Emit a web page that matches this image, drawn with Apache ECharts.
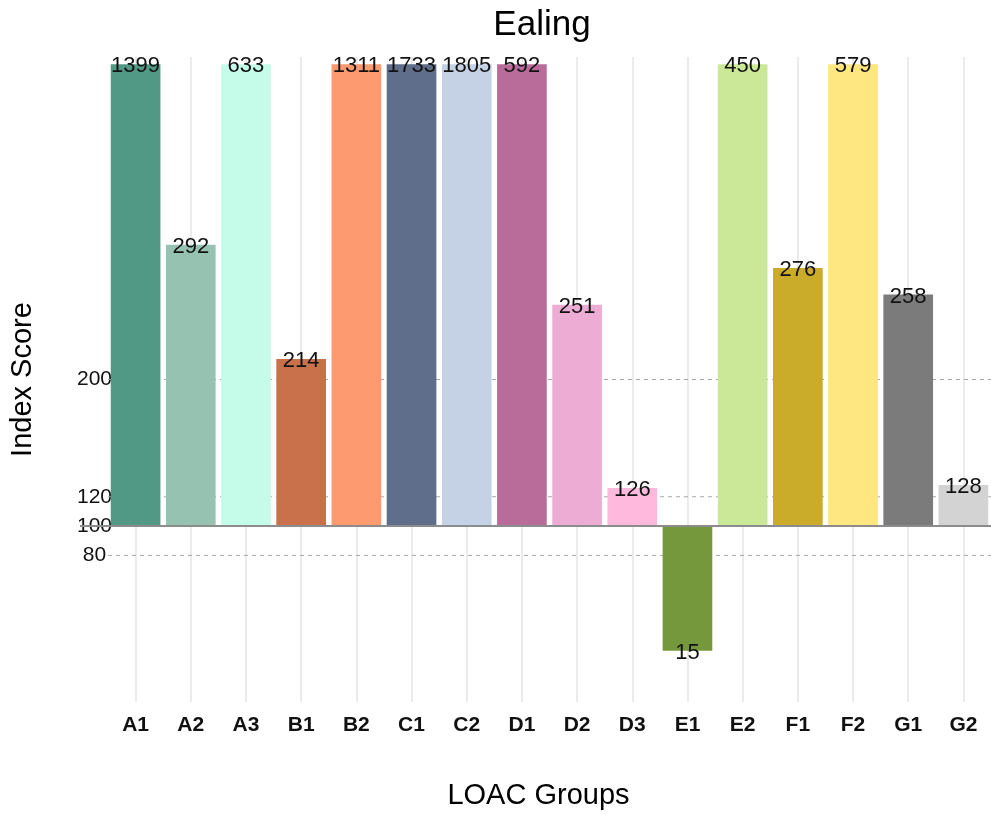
<!DOCTYPE html>
<html>
<head>
<meta charset="utf-8">
<title>Ealing – LOAC Groups</title>
<script src="https://cdn.jsdelivr.net/npm/echarts@6/dist/echarts.min.js"></script>
<style>
  html, body { margin: 0; padding: 0; background: #ffffff; }
  #chart { width: 991px; height: 815px; }
</style>
</head>
<body>
<div id="chart"></div>
<script>
// LOAC groups and their index scores for Ealing (100 = national average)
const groups = ['A1', 'A2', 'A3', 'B1', 'B2', 'C1', 'C2', 'D1', 'D2', 'D3', 'E1', 'E2', 'F1', 'F2', 'G1', 'G2'];
const indexScores = [1399, 292, 633, 214, 1311, 1733, 1805, 592, 251, 126, 15, 450, 276, 579, 258, 128];
const groupColors = ['#529985', '#96c2b2', '#c4fce9', '#c8714a', '#fd9a6f', '#5f6e8a', '#c5d1e4', '#b96b99',
                     '#ecacd4', '#feb9dd', '#74983b', '#cbe899', '#caab2a', '#fee680', '#7b7b7b', '#d3d3d3'];

// y-axis labels and dashed reference levels
const tickValues = [80, 100, 120, 200];
const guideValues = [80, 120, 200];
const baselineValue = 100;

// axis extent; bars taller than the cap are cut off at it
const axisMin = -20;
const axisMax = 420;
const barCap = 415;

const FONT = '"Liberation Sans", Arial, Helvetica, sans-serif';

const chart = echarts.init(document.getElementById('chart'), null, { renderer: 'canvas' });

function renderBar(params, api) {
  const i = api.value(0);
  const v = api.value(1);
  const shown = Math.min(Math.max(v, axisMin), barCap);
  const base = api.coord([i, baselineValue]);
  const end = api.coord([i, shown]);
  const w = api.size([1, 0])[0] * 0.9;
  return {
    type: 'group',
    children: [
      {
        type: 'rect',
        shape: { x: base[0] - w / 2, y: Math.min(base[1], end[1]), width: w, height: Math.abs(base[1] - end[1]) },
        style: { fill: groupColors[params.dataIndex] }
      },
      {
        type: 'text',
        z2: 20,
        style: {
          x: end[0], y: end[1] + 2, text: String(v),
          align: 'center', verticalAlign: 'middle',
          fontSize: 22, fontFamily: FONT, fill: '#111111'
        }
      }
    ]
  };
}

function renderGuide(params, api) {
  const cs = params.coordSys;
  const y = api.coord([0, api.value(1)])[1];
  return {
    type: 'line',
    shape: { x1: cs.x, y1: y, x2: cs.x + cs.width, y2: y },
    style: { stroke: '#a6a6a6', lineWidth: 1, lineDash: [4, 4] }
  };
}

function renderBaseline(params, api) {
  const cs = params.coordSys;
  const y = api.coord([0, api.value(1)])[1];
  return {
    type: 'line',
    shape: { x1: cs.x - 28, y1: y, x2: cs.x + cs.width, y2: y },
    style: { stroke: '#8c8c8c', lineWidth: 2 }
  };
}

chart.setOption({
  animation: false,
  backgroundColor: '#ffffff',
  title: {
    text: 'Ealing',
    left: 537,
    top: 3,
    textAlign: 'center',
    textStyle: { fontSize: 35, fontWeight: 'normal', fontFamily: FONT, color: '#000000' }
  },
  grid: { left: 105.5, right: -3, top: 57, bottom: 111.3, containLabel: false },
  xAxis: {
    type: 'category',
    data: groups,
    boundaryGap: true,
    axisLine: { show: false },
    axisTick: { show: false, alignWithLabel: true },
    splitLine: { show: true, alignWithLabel: true, lineStyle: { color: '#ebebeb', width: 2 } },
    axisLabel: { margin: 13, fontSize: 21, fontWeight: 'bold', fontFamily: FONT, color: '#111111' },
    name: 'LOAC Groups',
    nameLocation: 'middle',
    nameGap: 79,
    nameTextStyle: { fontSize: 29, fontFamily: FONT, color: '#000000', padding: [0, 22, 0, 0] }
  },
  yAxis: {
    type: 'value',
    min: axisMin,
    max: axisMax,
    interval: 20,
    axisLine: { show: false },
    axisTick: { show: false },
    splitLine: { show: false },
    axisLabel: {
      margin: 13.5,
      align: 'center',
      fontSize: 21,
      fontFamily: FONT,
      color: '#111111',
      formatter: v => (tickValues.includes(v) ? String(v) : '')
    },
    name: 'Index Score',
    nameLocation: 'middle',
    nameGap: 71,
    nameRotate: 90,
    nameTextStyle: { fontSize: 29, fontFamily: FONT, color: '#000000' }
  },
  series: [
    {
      name: 'guides',
      type: 'custom',
      z: 1,
      silent: true,
      renderItem: renderGuide,
      encode: { x: 0, y: 1 },
      data: guideValues.map(v => [0, v])
    },
    {
      name: 'Index Score',
      type: 'custom',
      z: 3,
      renderItem: renderBar,
      encode: { x: 0, y: 1 },
      data: groups.map((g, i) => [i, indexScores[i]])
    },
    {
      name: 'baseline',
      type: 'custom',
      z: 4,
      silent: true,
      renderItem: renderBaseline,
      encode: { x: 0, y: 1 },
      data: [[0, baselineValue]]
    }
  ]
});
</script>
</body>
</html>
